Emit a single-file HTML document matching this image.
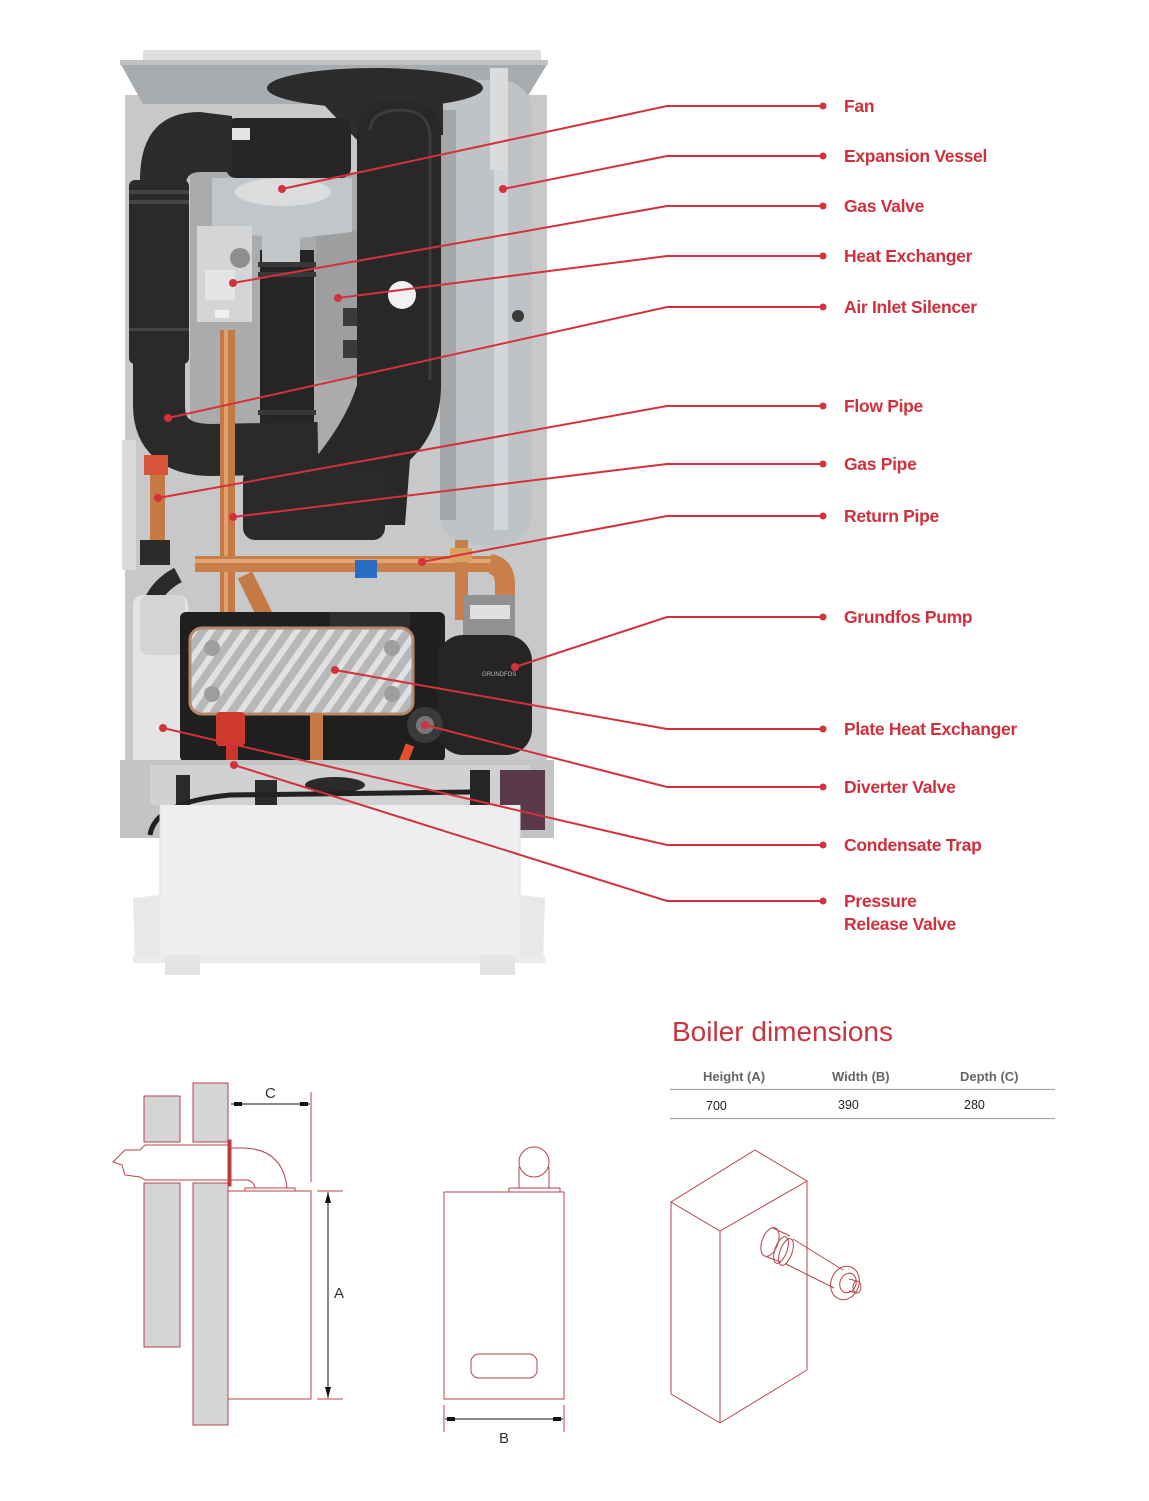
<!DOCTYPE html>
<html><head><meta charset="utf-8"><style>
html,body{margin:0;padding:0;background:#fff;}
svg{display:block;}
.lbl{font-family:"Liberation Sans",sans-serif;font-weight:bold;font-size:17.5px;fill:#d0303c;letter-spacing:-0.3px;}
.th{font-family:"Liberation Sans",sans-serif;font-weight:bold;font-size:13px;fill:#666;}
.td{font-family:"Liberation Sans",sans-serif;font-size:12.5px;fill:#222;}
.dim{font-family:"Liberation Sans",sans-serif;font-size:15px;fill:#333;}
</style></head><body>
<svg width="1149" height="1501" viewBox="0 0 1149 1501" xmlns="http://www.w3.org/2000/svg">
<defs>
<pattern id="stripes" width="14" height="14" patternUnits="userSpaceOnUse" patternTransform="rotate(35)">
<rect width="14" height="14" fill="#b5b7b9"/><rect width="6" height="14" fill="#dfe1e2"/>
</pattern>
</defs>
<rect width="1149" height="1501" fill="#fff"/>

<!-- ===== PHOTO ===== -->
<!-- back panel -->
<rect x="125" y="95" width="422" height="740" fill="#c6c8ca"/>
<rect x="122" y="440" width="14" height="130" fill="#d8dadb"/>
<!-- lid -->
<polygon points="120,63 548,63 523,104 143,104" fill="#a9acae"/>
<rect x="143" y="50" width="398" height="14" fill="#dcdedf"/>
<rect x="120" y="60" width="428" height="5" fill="#bfc1c3"/>
<!-- expansion vessel -->
<rect x="440" y="80" width="92" height="465" rx="32" fill="#c0c3c6"/>
<rect x="440" y="110" width="16" height="410" fill="#a4a7aa"/>
<rect x="494" y="90" width="14" height="440" fill="#d4d7d9"/>
<rect x="490" y="68" width="18" height="102" fill="#d9dbdd"/>
<circle cx="518" cy="316" r="6" fill="#3a3a3a"/>
<!-- combustion back area -->
<rect x="190" y="172" width="172" height="300" fill="#a9abad"/>
<rect x="316" y="230" width="44" height="150" fill="#9c9ea0"/>
<!-- flue top -->
<ellipse cx="375" cy="88" rx="108" ry="20" fill="#2b2b2b"/>
<polygon points="310,90 443,90 443,135 357,140" fill="#2c2c2c"/>
<!-- tall flue pipe -->
<path d="M357,130 Q357,100 400,100 Q441,100 441,135 L441,385 Q441,430 410,460 L405,525 L305,525 L305,470 Q345,425 357,385 Z" fill="#282828"/>
<path d="M370,130 Q372,110 400,110 Q428,110 430,135 L430,380" fill="none" stroke="#3c3c3c" stroke-width="3"/>
<circle cx="402" cy="295" r="14" fill="#f2f2f2"/>
<rect x="343" y="308" width="14" height="18" fill="#3a3a3a"/>
<rect x="343" y="340" width="14" height="18" fill="#3a3a3a"/>
<!-- center corrugated pipe -->
<rect x="260" y="250" width="54" height="222" fill="#252525"/>
<rect x="258" y="262" width="58" height="5" fill="#383838"/>
<rect x="258" y="272" width="58" height="5" fill="#383838"/>
<rect x="258" y="410" width="58" height="5" fill="#383838"/>
<!-- fan -->
<rect x="226" y="118" width="125" height="60" rx="10" fill="#262626"/>
<path d="M212,178 L352,178 L352,232 L300,238 L300,262 L262,262 L262,236 L212,232 Z" fill="#c3c6c9"/>
<ellipse cx="283" cy="192" rx="48" ry="14" fill="#dadcde"/>
<rect x="228" y="128" width="22" height="12" fill="#e4e4e4"/>
<!-- gas valve -->
<rect x="197" y="226" width="55" height="96" fill="#d3d5d7"/>
<circle cx="240" cy="258" r="10" fill="#8d8f91"/>
<rect x="205" y="270" width="30" height="30" fill="#e3e4e5"/>
<rect x="215" y="310" width="14" height="8" fill="#f0f0f0"/>
<!-- air inlet silencer -->
<path d="M140,185 Q138,112 200,112 L232,116 L232,172 L200,172 Q186,172 186,185 Z" fill="#2c2c2c"/>
<rect x="129" y="180" width="60" height="184" rx="6" fill="#2a2a2a"/>
<rect x="129" y="190" width="60" height="4" fill="#444"/>
<rect x="129" y="200" width="60" height="4" fill="#444"/>
<rect x="129" y="328" width="60" height="3" fill="#444"/>
<path d="M159,358 L159,405 Q159,450 212,450 L318,448" fill="none" stroke="#2a2a2a" stroke-width="52"/>
<!-- copper pipes upper -->
<rect x="220" y="330" width="15" height="290" fill="#c57a45"/>
<rect x="224" y="330" width="4" height="290" fill="#e0a070"/>
<rect x="150" y="455" width="15" height="90" fill="#c57a45"/>
<rect x="144" y="455" width="24" height="20" fill="#d9533a"/>
<!-- lower black collector -->
<rect x="243" y="468" width="142" height="72" rx="12" fill="#2a2a2a"/>
<!-- return pipe -->
<rect x="195" y="556" width="300" height="16" fill="#c87f4a"/>
<rect x="195" y="559" width="300" height="4" fill="#e3a575"/>
<path d="M490,564 Q505,566 505,585 L505,605" fill="none" stroke="#c87f4a" stroke-width="20"/>
<rect x="455" y="540" width="13" height="80" fill="#c87f4a"/>
<rect x="450" y="548" width="22" height="14" fill="#d9a060"/>
<rect x="355" y="560" width="22" height="18" fill="#2a6cc4"/>
<path d="M245,575 L272,630" stroke="#c57a45" stroke-width="16"/>
<rect x="140" y="540" width="30" height="25" fill="#2b2b2b"/>
<!-- black hose -->
<path d="M178,575 Q140,595 148,645" fill="none" stroke="#2a2a2a" stroke-width="16"/>
<!-- condensate trap -->
<rect x="133" y="595" width="55" height="180" rx="10" fill="#e2e4e5"/>
<rect x="140" y="595" width="45" height="60" rx="8" fill="#d2d4d5"/>
<!-- black block -->
<rect x="180" y="612" width="265" height="150" rx="6" fill="#1f1f1f"/>
<rect x="330" y="612" width="80" height="22" fill="#2e2e2e"/>
<!-- plate heat exchanger -->
<rect x="190" y="628" width="223" height="86" rx="12" fill="url(#stripes)" stroke="#b6896a" stroke-width="3"/>
<circle cx="212" cy="648" r="8" fill="#9c9ea0"/><circle cx="392" cy="648" r="8" fill="#9c9ea0"/>
<circle cx="212" cy="694" r="8" fill="#9c9ea0"/><circle cx="392" cy="694" r="8" fill="#9c9ea0"/>
<rect x="310" y="714" width="13" height="46" fill="#c57a45"/>
<!-- pump -->
<rect x="463" y="595" width="52" height="45" fill="#8f9193"/>
<rect x="470" y="605" width="40" height="14" fill="#e0e0e0"/>
<rect x="437" y="635" width="95" height="120" rx="26" fill="#252525"/>
<text x="482" y="676" font-family="Liberation Sans,sans-serif" font-size="6" fill="#bbb">GRUNDFOS</text>
<!-- diverter -->
<circle cx="425" cy="725" r="18" fill="#3a3a3a"/>
<circle cx="425" cy="725" r="9" fill="#777"/>
<path d="M410,745 L400,770" stroke="#e0502d" stroke-width="9"/>
<!-- red PRV -->
<rect x="216" y="712" width="29" height="34" rx="4" fill="#d03a2c"/>
<rect x="226" y="744" width="12" height="26" fill="#c9352a"/>
<!-- base plate -->
<rect x="120" y="760" width="434" height="78" fill="#c2c4c6"/>
<rect x="150" y="765" width="380" height="40" fill="#cfd1d2"/>
<rect x="176" y="775" width="14" height="50" fill="#2a2a2a"/>
<rect x="255" y="780" width="22" height="40" fill="#2a2a2a"/>
<ellipse cx="335" cy="785" rx="30" ry="8" fill="#2a2a2a"/>
<path d="M150,835 Q155,802 230,795 L470,792" fill="none" stroke="#222" stroke-width="5"/>
<rect x="470" y="770" width="20" height="45" fill="#262626"/>
<rect x="500" y="770" width="45" height="60" fill="#5a3a4a"/>
<!-- tray -->
<rect x="160" y="805" width="360" height="158" fill="#eceeef"/>
<polygon points="133,898 160,895 160,963 135,963" fill="#e6e8e9"/>
<polygon points="520,895 545,898 543,963 520,963" fill="#e6e8e9"/>
<rect x="133" y="955" width="412" height="8" fill="#e9ebec"/>
<rect x="165" y="955" width="35" height="20" fill="#e2e4e5"/>
<rect x="480" y="955" width="35" height="20" fill="#e2e4e5"/>
<line x1="160" y1="805" x2="160" y2="895" stroke="#dcdedf"/>
<line x1="520" y1="805" x2="520" y2="895" stroke="#dcdedf"/>

<!-- ===== LEADERS ===== -->
<g stroke="#d3313c" stroke-width="2" fill="none">
<polyline points="282,189 667,106 823,106"/>
<polyline points="503,189 667,156 823,156"/>
<polyline points="233,283 667,206 823,206"/>
<polyline points="338,298 667,256 823,256"/>
<polyline points="168,418 667,307 823,307"/>
<polyline points="158,498 667,406 823,406"/>
<polyline points="233,517 667,464 823,464"/>
<polyline points="422,562 667,516 823,516"/>
<polyline points="515,667 667,617 823,617"/>
<polyline points="335,670 667,729 823,729"/>
<polyline points="425,725 667,787 823,787"/>
<polyline points="163,728 667,845 823,845"/>
<polyline points="234,765 667,901 823,901"/>
</g>
<g fill="#d3313c">
<circle cx="823" cy="106" r="3.5"/><circle cx="823" cy="156" r="3.5"/><circle cx="823" cy="206" r="3.5"/>
<circle cx="823" cy="256" r="3.5"/><circle cx="823" cy="307" r="3.5"/><circle cx="823" cy="406" r="3.5"/>
<circle cx="823" cy="464" r="3.5"/><circle cx="823" cy="516" r="3.5"/><circle cx="823" cy="617" r="3.5"/>
<circle cx="823" cy="729" r="3.5"/><circle cx="823" cy="787" r="3.5"/><circle cx="823" cy="845" r="3.5"/>
<circle cx="823" cy="901" r="3.5"/>
<circle cx="282" cy="189" r="4"/><circle cx="503" cy="189" r="4"/><circle cx="233" cy="283" r="4"/>
<circle cx="338" cy="298" r="4"/><circle cx="168" cy="418" r="4"/><circle cx="158" cy="498" r="4"/>
<circle cx="233" cy="517" r="4"/><circle cx="422" cy="562" r="4"/><circle cx="515" cy="667" r="4"/>
<circle cx="335" cy="670" r="4"/><circle cx="425" cy="725" r="4"/><circle cx="163" cy="728" r="4"/>
<circle cx="230" cy="746" r="4"/><circle cx="234" cy="765" r="4"/>
</g>
<g class="lbl">
<text class="lbl" x="844" y="112">Fan</text>
<text class="lbl" x="844" y="162">Expansion Vessel</text>
<text class="lbl" x="844" y="212">Gas Valve</text>
<text class="lbl" x="844" y="262">Heat Exchanger</text>
<text class="lbl" x="844" y="313">Air Inlet Silencer</text>
<text class="lbl" x="844" y="412">Flow Pipe</text>
<text class="lbl" x="844" y="470">Gas Pipe</text>
<text class="lbl" x="844" y="522">Return Pipe</text>
<text class="lbl" x="844" y="623">Grundfos Pump</text>
<text class="lbl" x="844" y="735">Plate Heat Exchanger</text>
<text class="lbl" x="844" y="793">Diverter Valve</text>
<text class="lbl" x="844" y="851">Condensate Trap</text>
<text class="lbl" x="844" y="907">Pressure</text>
<text class="lbl" x="844" y="930">Release Valve</text>
</g>

<!-- ===== DIMENSIONS TABLE ===== -->
<text x="672" y="1041" font-family="Liberation Sans,sans-serif" font-size="28" fill="#c8343f">Boiler dimensions</text>
<text class="th" x="703" y="1081">Height (A)</text>
<text class="th" x="832" y="1081">Width (B)</text>
<text class="th" x="960" y="1081">Depth (C)</text>
<line x1="670" y1="1089.5" x2="1055" y2="1089.5" stroke="#a8a8a8" stroke-width="1.2"/>
<text class="td" x="706" y="1110">700</text>
<text class="td" x="838" y="1109">390</text>
<text class="td" x="964" y="1109">280</text>
<line x1="670" y1="1118.5" x2="1055" y2="1118.5" stroke="#a8a8a8" stroke-width="1.2"/>

<!-- ===== SIDE VIEW ===== -->
<g stroke="#b8434b" stroke-width="1" fill="none">
<rect x="144" y="1096" width="36" height="46" fill="#d5d5d5"/>
<rect x="144" y="1183" width="36" height="164" fill="#d5d5d5"/>
<rect x="193" y="1083" width="35" height="59" fill="#d5d5d5"/>
<rect x="193" y="1183" width="35" height="242" fill="#d5d5d5"/>
<path d="M145,1145 L228,1145 L228,1180 L145,1180 L140,1177 L125,1175 L122,1165 L113,1162 L120,1155 L125,1150 L140,1150 Z" fill="#fff"/>
<rect x="228" y="1140" width="3" height="46" fill="#c0393f" stroke="#c0393f"/>
<path d="M231,1148 L245,1148 Q283,1150 287,1188"/>
<path d="M231,1180 L248,1180 Q254,1182 255,1188"/>
<rect x="245" y="1188" width="50" height="3"/>
<rect x="228" y="1191" width="83" height="208"/>
<line x1="311" y1="1092" x2="311" y2="1182"/>
<line x1="317" y1="1191" x2="343" y2="1191"/>
<line x1="317" y1="1399" x2="343" y2="1399"/>
<rect x="444" y="1192" width="120" height="207"/>
<rect x="509" y="1188" width="51" height="4"/>
<circle cx="534" cy="1162" r="15"/>
<line x1="519" y1="1167" x2="519" y2="1188"/>
<line x1="549" y1="1167" x2="549" y2="1188"/>
<rect x="471" y="1354" width="66" height="24" rx="8"/>
<line x1="444" y1="1405" x2="444" y2="1432"/>
<line x1="564" y1="1405" x2="564" y2="1432"/>
</g>
<g stroke="#111" stroke-width="1">
<line x1="231" y1="1104" x2="310" y2="1104"/>
<line x1="328" y1="1192" x2="328" y2="1398"/>
<line x1="445" y1="1419" x2="563" y2="1419"/>
</g>
<g fill="#111">
<rect x="234" y="1102" width="8" height="4"/><rect x="300" y="1102" width="8" height="4"/>
<polygon points="328,1192 325,1203 331,1203"/><polygon points="328,1398 325,1387 331,1387"/>
<rect x="447" y="1417" width="8" height="4"/><rect x="553" y="1417" width="8" height="4"/>
</g>
<text class="dim" x="265" y="1098">C</text>
<text class="dim" x="334" y="1298">A</text>
<text class="dim" x="499" y="1443">B</text>

<!-- ===== ISOMETRIC ===== -->
<g stroke="#b8434b" stroke-width="1" fill="none">
<polygon points="755,1150 807,1181 720,1231 671,1202"/>
<line x1="671" y1="1202" x2="671" y2="1394"/>
<line x1="720" y1="1231" x2="720" y2="1423"/>
<line x1="807" y1="1181" x2="807" y2="1370"/>
<line x1="671" y1="1394" x2="720" y2="1423"/>
<line x1="720" y1="1423" x2="807" y2="1370"/>
<ellipse cx="770" cy="1242" rx="8" ry="15" transform="rotate(20 770 1242)"/>
<line x1="773" y1="1228" x2="790" y2="1236"/>
<line x1="767" y1="1257" x2="781" y2="1262"/>
<ellipse cx="781" cy="1250" rx="6" ry="14" transform="rotate(20 781 1250)"/>
<ellipse cx="786" cy="1252" rx="6" ry="14" transform="rotate(20 786 1252)"/>
<line x1="793" y1="1239" x2="843" y2="1270"/>
<line x1="786" y1="1264" x2="834" y2="1288"/>
<ellipse cx="845" cy="1283" rx="14" ry="17" transform="rotate(20 845 1283)"/>
<ellipse cx="848" cy="1283" rx="8" ry="10" transform="rotate(20 848 1283)"/>
<ellipse cx="857" cy="1287" rx="4" ry="6"/>
<line x1="849" y1="1279" x2="857" y2="1281"/>
<line x1="849" y1="1291" x2="857" y2="1293"/>
</g>
</svg>
</body></html>
